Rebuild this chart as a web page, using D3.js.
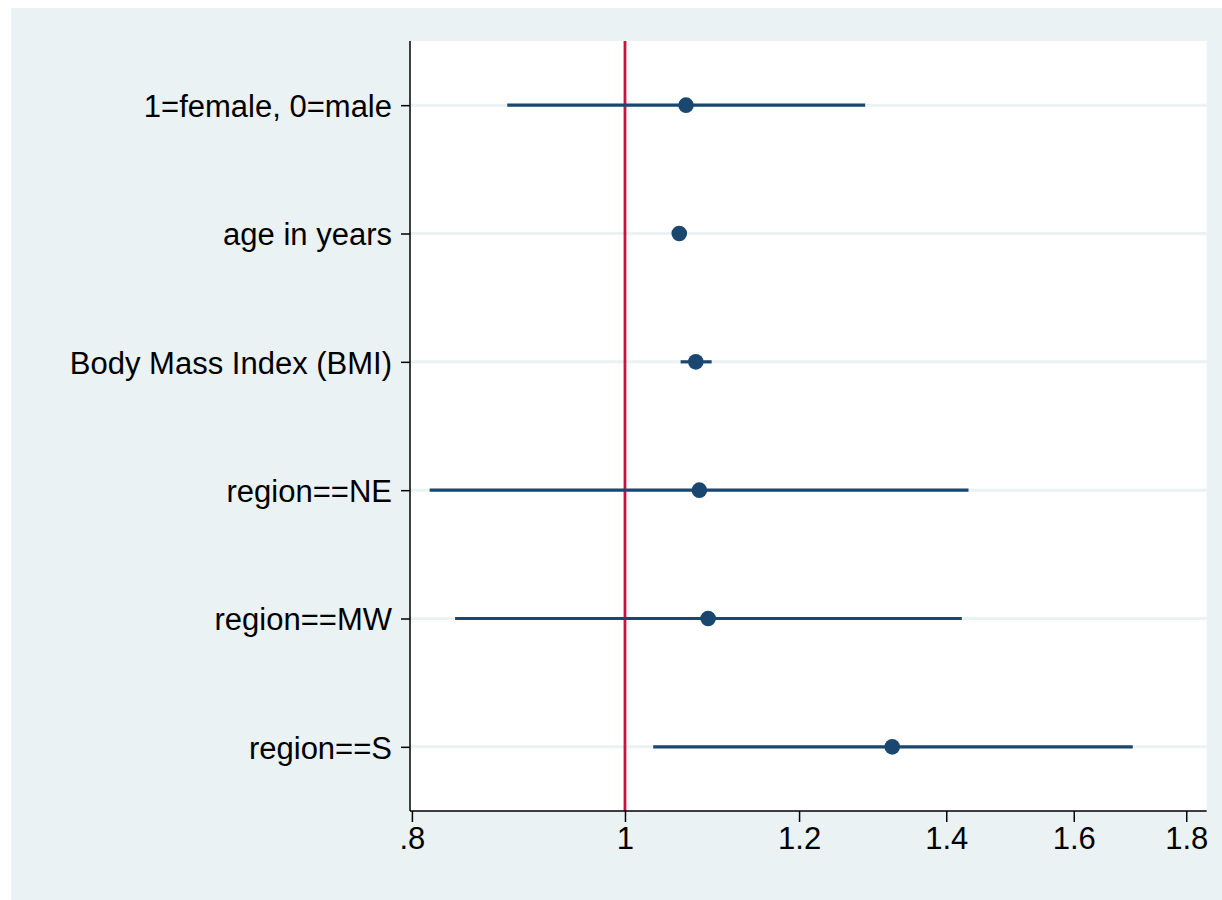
<!DOCTYPE html>
<html>
<head>
  <meta charset="utf-8">
  <title>Coefficient plot</title>
  <script src="https://d3js.org/d3.v7.min.js"></script>
  <style>
    body { margin: 0; background: #fff; }
    svg text { font-family: Arial, "Liberation Sans", sans-serif; fill: #000; }
  </style>
</head>
<body>
<svg class="chart"></svg>
<script>

// Coefficient labels, top to bottom
const labels = ["1=female, 0=male", "age in years", "Body Mass Index (BMI)",
                "region==NE", "region==MW", "region==S"];
// Point estimates (odds ratios) and their confidence limits
const estimates = [1.066, 1.0585, 1.077, 1.081, 1.091, 1.323];
const lowerCI   = [0.884, 1.052, 1.060, 0.815, 0.837, 1.030];
const upperCI   = [1.286, 1.065, 1.095, 1.433, 1.423, 1.702];
// x axis ticks and reference line
const xTicks = [0.8, 1, 1.2, 1.4, 1.6, 1.8];
const refLine = 1;

const W = 1222, H = 900;
const plot = {left: 410, right: 1206.7, top: 41, bottom: 811};

const svg = d3.select(".chart")
  .attr("width", W)
  .attr("height", H);

// Outer graph region
svg.append("rect")
  .attr("x", 11).attr("y", 8)
  .attr("width", W - 11).attr("height", H - 8)
  .attr("fill", "#EAF2F3");

// Plot region
svg.append("rect")
  .attr("x", plot.left).attr("y", plot.top)
  .attr("width", plot.right - plot.left).attr("height", plot.bottom - plot.top)
  .attr("fill", "#fff");

const data = labels.map((l, i) => ({label: l, b: estimates[i], lo: lowerCI[i], hi: upperCI[i]}));

// Scales (log scale, as in eform coefplot)
const x = d3.scaleLog()
  .domain([0.7984, 1.839])
  .range([plot.left, plot.right]);

const y = d3.scalePoint()
  .domain(labels)
  .range([plot.top, plot.bottom])
  .padding(0.5);

// Row grid lines
svg.append("g")
  .selectAll("line")
  .data(labels)
  .join("line")
    .attr("x1", plot.left).attr("x2", plot.right)
    .attr("y1", d => y(d)).attr("y2", d => y(d))
    .attr("stroke", "#EAF2F3")
    .attr("stroke-width", 3);

// Reference line at 1
svg.append("line")
  .attr("x1", x(refLine)).attr("x2", x(refLine))
  .attr("y1", plot.top).attr("y2", plot.bottom)
  .attr("stroke", "#CC1040")
  .attr("stroke-width", 2.8);

// Confidence intervals
svg.append("g")
  .selectAll("line")
  .data(data)
  .join("line")
    .attr("x1", d => x(d.lo)).attr("x2", d => x(d.hi))
    .attr("y1", d => y(d.label)).attr("y2", d => y(d.label))
    .attr("stroke", "#1A476F")
    .attr("stroke-width", 3.2);

// Point estimates
svg.append("g")
  .selectAll("circle")
  .data(data)
  .join("circle")
    .attr("cx", d => x(d.b))
    .attr("cy", d => y(d.label))
    .attr("r", 7.8)
    .attr("fill", "#1A476F");

// Y axis
const yAxis = svg.append("g")
  .attr("transform", `translate(${plot.left},0)`)
  .call(d3.axisLeft(y).tickSize(9).tickPadding(9));
yAxis.select(".domain").attr("d", `M0,${plot.top}V${plot.bottom}`);
yAxis.selectAll("text").style("font-size", "31px").attr("dy", "0.36em");

// X axis
const fmt = d => String(d).replace(/^0\./, ".");
const xAxis = svg.append("g")
  .attr("transform", `translate(0,${plot.bottom})`)
  .call(d3.axisBottom(x).tickValues(xTicks).tickFormat(fmt).tickSize(11).tickPadding(5));
xAxis.select(".domain").attr("d", `M${plot.left},0H${plot.right}`);
xAxis.selectAll("text").style("font-size", "31px");

svg.selectAll(".domain").attr("stroke", "#000").attr("stroke-width", 1.5);
svg.selectAll(".tick line").attr("stroke", "#000").attr("stroke-width", 1.5);

</script>
</body>
</html>
